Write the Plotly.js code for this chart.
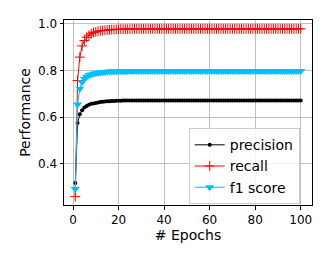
<!DOCTYPE html>
<html>
<head>
<meta charset="utf-8">
<script src="https://cdn.plot.ly/plotly-3.0.1.min.js"></script>
<style>
html, body { margin: 0; padding: 0; background: #ffffff; }
#chart { width: 332px; height: 259px; }
</style>
</head>
<body>
<div id="chart"></div>
<script>
const epochs = [
  1,2,3,4,5,6,7,8,9,10,
  11,12,13,14,15,16,17,18,19,20,
  21,22,23,24,25,26,27,28,29,30,
  31,32,33,34,35,36,37,38,39,40,
  41,42,43,44,45,46,47,48,49,50,
  51,52,53,54,55,56,57,58,59,60,
  61,62,63,64,65,66,67,68,69,70,
  71,72,73,74,75,76,77,78,79,80,
  81,82,83,84,85,86,87,88,89,90,
  91,92,93,94,95,96,97,98,99,100
];
const precision = [
  0.318,0.575,0.612,0.630,0.641,0.648,0.653,0.657,0.659,0.661,
  0.663,0.665,0.666,0.667,0.668,0.668,0.669,0.669,0.670,0.670,
  0.670,0.671,0.671,0.671,0.671,0.671,0.671,0.671,0.671,0.671,
  0.671,0.671,0.671,0.671,0.671,0.671,0.671,0.671,0.671,0.671,
  0.671,0.671,0.671,0.671,0.671,0.671,0.671,0.671,0.671,0.671,
  0.671,0.671,0.671,0.671,0.671,0.671,0.671,0.671,0.671,0.671,
  0.671,0.671,0.671,0.671,0.671,0.671,0.671,0.671,0.671,0.671,
  0.671,0.671,0.671,0.671,0.671,0.671,0.671,0.671,0.671,0.671,
  0.671,0.671,0.671,0.671,0.671,0.671,0.671,0.671,0.671,0.671,
  0.671,0.671,0.671,0.671,0.671,0.671,0.671,0.671,0.671,0.671
];
const recall = [
  0.260,0.757,0.857,0.905,0.928,0.942,0.951,0.957,0.962,0.965,
  0.968,0.970,0.971,0.972,0.973,0.974,0.975,0.975,0.976,0.976,
  0.977,0.977,0.977,0.977,0.977,0.978,0.978,0.978,0.978,0.978,
  0.978,0.978,0.978,0.978,0.978,0.978,0.978,0.978,0.978,0.978,
  0.978,0.978,0.978,0.978,0.978,0.978,0.978,0.978,0.978,0.978,
  0.978,0.978,0.978,0.978,0.978,0.978,0.978,0.978,0.978,0.978,
  0.978,0.978,0.978,0.978,0.978,0.978,0.978,0.978,0.978,0.978,
  0.978,0.978,0.978,0.978,0.978,0.978,0.978,0.978,0.978,0.978,
  0.978,0.978,0.978,0.978,0.978,0.978,0.978,0.978,0.978,0.978,
  0.978,0.978,0.978,0.978,0.978,0.978,0.978,0.978,0.978,0.978
];
const f1score = [
  0.292,0.654,0.722,0.750,0.764,0.773,0.779,0.783,0.786,0.788,
  0.790,0.791,0.792,0.793,0.794,0.795,0.795,0.796,0.796,0.797,
  0.797,0.797,0.797,0.798,0.798,0.798,0.798,0.798,0.798,0.798,
  0.798,0.798,0.798,0.798,0.798,0.798,0.798,0.798,0.798,0.798,
  0.798,0.798,0.798,0.798,0.798,0.798,0.798,0.798,0.798,0.798,
  0.798,0.798,0.798,0.798,0.798,0.798,0.798,0.798,0.798,0.798,
  0.798,0.798,0.798,0.798,0.798,0.798,0.798,0.798,0.798,0.798,
  0.798,0.798,0.798,0.798,0.798,0.798,0.798,0.798,0.798,0.798,
  0.798,0.798,0.798,0.798,0.798,0.798,0.798,0.798,0.798,0.798,
  0.798,0.798,0.798,0.798,0.798,0.798,0.798,0.798,0.798,0.798
];
const seriesNames = ["precision", "recall", "f1 score"];
const xTicks = [0, 20, 40, 60, 80, 100];
const yTicks = [0.4, 0.6, 0.8, 1.0];
const yTickText = ["0.4", "0.6", "0.8", "1.0"];

const traces = [
  {
    x: epochs, y: precision, name: seriesNames[0], type: "scatter", mode: "lines+markers",
    line: { color: "#000000", width: 1 },
    marker: { symbol: "circle", size: 4, color: "#000000" }
  },
  {
    x: epochs, y: recall, name: seriesNames[1], type: "scatter", mode: "lines+markers",
    line: { color: "#ff0000", width: 1 },
    marker: { symbol: "cross-thin", size: 7, color: "#ff0000", line: { color: "#ff0000", width: 1 } }
  },
  {
    x: epochs, y: f1score, name: seriesNames[2], type: "scatter", mode: "lines+markers",
    line: { color: "#00bfff", width: 1 },
    marker: { symbol: "triangle-down", size: 8, color: "#00bfff" }
  }
];

const axisCommon = {
  showline: true, linecolor: "#000000", linewidth: 1, mirror: true,
  ticks: "outside", ticklen: 3.5, tickwidth: 1, tickcolor: "#000000",
  showgrid: true, gridcolor: "#b0b0b0", gridwidth: 0.8, zeroline: false,
  automargin: true,
  tickfont: { family: "DejaVu Sans", size: 12, color: "#000000" }
};

const layout = {
  width: 332, height: 259,
  margin: { l: 64, r: 20, t: 20, b: 54 },
  paper_bgcolor: "#ffffff", plot_bgcolor: "#ffffff",
  font: { family: "DejaVu Sans", color: "#000000" },
  showlegend: true,
  xaxis: Object.assign({}, axisCommon, {
    range: [-3.95, 104.95], tickvals: xTicks,
    title: { text: "# Epochs", font: { family: "DejaVu Sans", size: 14, color: "#000000" }, standoff: 1 }
  }),
  yaxis: Object.assign({}, axisCommon, {
    range: [0.224, 1.016], tickvals: yTicks, ticktext: yTickText,
    title: { text: "Performance", font: { family: "DejaVu Sans", size: 14, color: "#000000" }, standoff: 4 }
  }),
  legend: {
    x: 0.503, y: 0.415, xanchor: "left", yanchor: "top",
    bgcolor: "rgba(255,255,255,0.8)", bordercolor: "#cccccc", borderwidth: 1,
    font: { family: "DejaVu Sans", size: 14, color: "#000000" },
    itemwidth: 30, tracegroupgap: 0
  }
};

Plotly.newPlot("chart", traces, layout, { staticPlot: true, displayModeBar: false });
</script>
</body>
</html>
